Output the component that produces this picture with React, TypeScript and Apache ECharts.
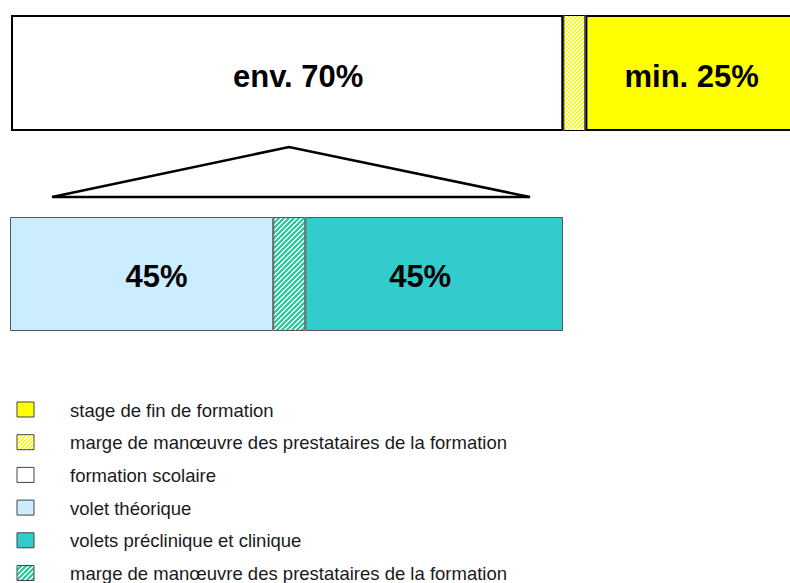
import React, { useEffect, useRef } from 'react';
import * as echarts from 'echarts';

// Top bar: whole training, in % of the bar scale
const topNames = ['formation scolaire', 'marge de manœuvre des prestataires de la formation', 'stage de fin de formation'];
const topValues = [70, 2.8, 27.2];
const topLabels = ['env. 70%', '', 'min. 25%'];

// Bottom bar: breakdown of "formation scolaire"
const bottomNames = ['volet théorique', 'marge de manœuvre des prestataires de la formation', 'volets préclinique et clinique'];
const bottomValues = [47.6, 5.8, 46.6];
const bottomLabels = ['45%', '', '45%'];

const legendLabels = [
  'stage de fin de formation',
  'marge de manœuvre des prestataires de la formation',
  'formation scolaire',
  'volet théorique',
  'volets préclinique et clinique',
  'marge de manœuvre des prestataires de la formation',
];

function stripes(fg: string, bg: string, p: number, w: number): string {
  const c = document.createElement('canvas');
  c.width = p;
  c.height = p;
  const ctx = c.getContext('2d')!;
  ctx.fillStyle = bg;
  ctx.fillRect(0, 0, p, p);
  ctx.fillStyle = fg;
  for (let x = 0; x < p; x++) {
    for (let y = 0; y < p; y++) {
      if ((x + y) % p < w) ctx.fillRect(x, y, 1, 1);
    }
  }
  return c.toDataURL();
}

export default function App() {
  const ref = useRef<HTMLDivElement>(null);
  useEffect(() => {
    document.body.style.margin = '0';
    document.body.style.overflow = 'hidden';
    const chart = echarts.init(ref.current!, null, { renderer: 'svg' });
    const yellowHatch = { image: stripes('#FFFF00', '#FFFFFF', 4, 2), repeat: 'repeat' } as any;
    const tealHatch = { image: stripes('#2FCCA0', '#E8FFF8', 5, 3), repeat: 'repeat' } as any;

    const topColors: any[] = ['#FFFFFF', yellowHatch, '#FFFF00'];
    const bottomColors: any[] = ['#CCECFF', tealHatch, '#33CCCC'];
    const topOffsets = [[11, 3], [0, 0], [-1, 3]];
    const bottomOffsets = [[15, 2], [0, 0], [-14, 2]];
    const legendFills: any[] = ['#FFFF00', yellowHatch, '#FFFFFF', '#CCECFF', '#33CCCC', tealHatch];

    const labelStyle = {
      show: true,
      position: 'inside',
      color: '#000',
      fontSize: 31,
      fontWeight: 'bold',
      fontFamily: 'Liberation Sans, Arial, sans-serif',
    };

    const series: any[] = [];
    topValues.forEach((v, i) => {
      series.push({
        type: 'bar',
        name: topNames[i],
        stack: 'top',
        xAxisIndex: 0,
        yAxisIndex: 0,
        barWidth: '100%',
        data: [v],
        itemStyle: { color: topColors[i], borderColor: '#000', borderWidth: i === 1 ? 1 : 2 },
        label: { ...labelStyle, show: topLabels[i] !== '', formatter: topLabels[i], offset: topOffsets[i] },
      });
    });
    bottomValues.forEach((v, i) => {
      series.push({
        type: 'bar',
        name: bottomNames[i],
        stack: 'bottom',
        xAxisIndex: 1,
        yAxisIndex: 1,
        barWidth: '100%',
        data: [v],
        itemStyle: { color: bottomColors[i], borderColor: '#555', borderWidth: 1 },
        label: { ...labelStyle, show: bottomLabels[i] !== '', formatter: bottomLabels[i], offset: bottomOffsets[i] },
      });
    });

    const graphics: any[] = [
      {
        type: 'polygon',
        shape: { points: [[52, 197], [289, 147], [530, 197]] },
        style: { fill: '#FFFFFF', stroke: '#000', lineWidth: 2.5, lineJoin: 'miter' },
      },
    ];
    legendLabels.forEach((t, i) => {
      const cy = 410 + i * 32.7;
      graphics.push({
        type: 'rect',
        shape: { x: 17, y: cy - 8, width: 17, height: 15 },
        style: { fill: legendFills[i], stroke: '#444', lineWidth: 1 },
      });
      graphics.push({
        type: 'text',
        x: 70,
        y: cy,
        style: {
          text: t,
          fill: '#1a1a1a',
          font: '18.5px "Liberation Sans", Arial, sans-serif',
          verticalAlign: 'middle',
        },
      });
    });

    chart.setOption({
      animation: false,
      backgroundColor: '#FFFFFF',
      grid: [
        { left: 11, top: 15, width: 789, height: 116, outerBoundsMode: 'none' },
        { left: 10, top: 217, width: 553, height: 114, outerBoundsMode: 'none' },
      ],
      xAxis: [
        { type: 'value', gridIndex: 0, min: 0, max: 100, show: false },
        { type: 'value', gridIndex: 1, min: 0, max: 100, show: false },
      ],
      yAxis: [
        { type: 'category', gridIndex: 0, data: [''], show: false },
        { type: 'category', gridIndex: 1, data: [''], show: false },
      ],
      series,
      graphic: graphics,
    });
    return () => chart.dispose();
  }, []);
  return <div ref={ref} style={{ width: 810, height: 583 }} />;
}
